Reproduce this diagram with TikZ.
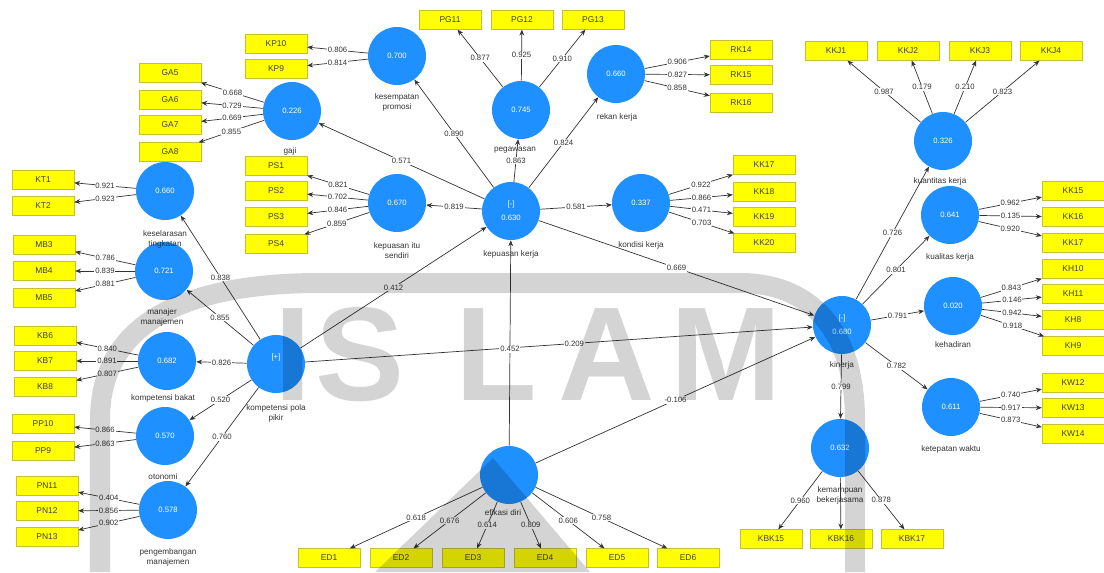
\documentclass[tikz,border=0pt]{standalone}
\usepackage{fontspec}
\setmainfont{Liberation Sans}
\usetikzlibrary{arrows.meta}
\definecolor{lvblue}{HTML}{1E90FF}
\definecolor{indyel}{HTML}{FFFF00}

\begin{document}
\begin{tikzpicture}[x=0.025cm,y=-0.025cm,>={Stealth[length=4.2pt,width=3.4pt]},
  lv/.style={circle,fill=lvblue,minimum size=1.45cm,inner sep=0pt,text=white,font=\fontsize{5.5}{7}\selectfont,align=center},
  ind/.style={rectangle,fill=indyel,draw=yellow!75!black,line width=0.3pt,minimum width=1.55cm,minimum height=0.47cm,inner sep=0pt,text=black!75,font=\fontsize{6}{7}\selectfont},
  lvcap/.style={font=\fontsize{5.8}{7}\selectfont,text=black!80,align=center,inner sep=0pt},
  ld/.style={fill=white,inner sep=0.6pt,font=\fontsize{5.5}{6}\selectfont,text=black!80},
  pth/.style={->,line width=0.5pt,draw=black!80},
  wm/.style={black!17},
  wmtxt/.style={text=black!17,font=\fontsize{95}{95}\selectfont\bfseries,anchor=base,inner sep=0pt}]
  \useasboundingbox (0,0) rectangle (1104,572);

  \node[lv] (kp) at (397,56) {0.700};
  \node[lv] (ga) at (292,111) {0.226};
  \node[lv] (pg) at (521,110) {0.745};
  \node[lv] (rk) at (616,74) {0.660};
  \node[lv] (ks) at (165,191) {0.660};
  \node[lv] (mm) at (164,271) {0.721};
  \node[lv] (kb) at (167,361) {0.682};
  \node[lv] (ot) at (165,436) {0.570};
  \node[lv] (pm) at (168,510) {0.578};
  \node[lv] (pp) at (276,364) {[+]\\[3pt]\phantom{0.000}};
  \node[lv] (pi) at (397,203) {0.670};
  \node[lv] (pk) at (511,211) {[-]\\[3pt]0.630};
  \node[lv] (kk) at (641,203) {0.337};
  \node[lv] (ed) at (509,475) {};
  \node[lv] (ki) at (842,325) {[-]\\[3pt]0.680};
  \node[lv] (kj) at (943,141) {0.326};
  \node[lv] (kl) at (950,215) {0.641};
  \node[lv] (kh) at (953,306) {0.020};
  \node[lv] (kw) at (951,407) {0.611};
  \node[lv] (kbs) at (840,448) {0.632};

  \node[ind] (kp10) at (276,44) {KP10};
  \node[ind] (kp9) at (276,69) {KP9};
  \node[ind] (ga5) at (170,73) {GA5};
  \node[ind] (ga6) at (170,100) {GA6};
  \node[ind] (ga7) at (170,125) {GA7};
  \node[ind] (ga8) at (170,152) {GA8};
  \node[ind] (kt1) at (43,180) {KT1};
  \node[ind] (kt2) at (43,206) {KT2};
  \node[ind] (mb3) at (44,245) {MB3};
  \node[ind] (mb4) at (44,271) {MB4};
  \node[ind] (mb5) at (44,298) {MB5};
  \node[ind] (kb6) at (45,336) {KB6};
  \node[ind] (kb7) at (45,361) {KB7};
  \node[ind] (kb8) at (45,387) {KB8};
  \node[ind] (pp10) at (43,424) {PP10};
  \node[ind] (pp9) at (43,451) {PP9};
  \node[ind] (pn11) at (47,486) {PN11};
  \node[ind] (pn12) at (47,511) {PN12};
  \node[ind] (pn13) at (47,537) {PN13};
  \node[ind] (ps1) at (276,166) {PS1};
  \node[ind] (ps2) at (276,191) {PS2};
  \node[ind] (ps3) at (276,217) {PS3};
  \node[ind] (ps4) at (276,244) {PS4};
  \node[ind] (pg11) at (450,20) {PG11};
  \node[ind] (pg12) at (522,20) {PG12};
  \node[ind] (pg13) at (593,20) {PG13};
  \node[ind] (rk14) at (741,50) {RK14};
  \node[ind] (rk15) at (741,75) {RK15};
  \node[ind] (rk16) at (741,103) {RK16};
  \node[ind] (kk17) at (764,165) {KK17};
  \node[ind] (kk18) at (764,192) {KK18};
  \node[ind] (kk19) at (764,217) {KK19};
  \node[ind] (kk20) at (764,243) {KK20};
  \node[ind] (kkj1) at (836,51) {KKJ1};
  \node[ind] (kkj2) at (908,51) {KKJ2};
  \node[ind] (kkj3) at (980,51) {KKJ3};
  \node[ind] (kkj4) at (1051,51) {KKJ4};
  \node[ind] (kl15) at (1073,191) {KK15};
  \node[ind] (kl16) at (1073,217) {KK16};
  \node[ind] (kl17) at (1073,243) {KK17};
  \node[ind] (kh10) at (1073,269) {KH10};
  \node[ind] (kh11) at (1073,294) {KH11};
  \node[ind] (kh8) at (1073,320) {KH8};
  \node[ind] (kh9) at (1073,346) {KH9};
  \node[ind] (kw12) at (1073,383) {KW12};
  \node[ind] (kw13) at (1073,408) {KW13};
  \node[ind] (kw14) at (1073,434) {KW14};
  \node[ind] (kbk15) at (771,539) {KBK15};
  \node[ind] (kbk16) at (841,539) {KBK16};
  \node[ind] (kbk17) at (912,539) {KBK17};
  \node[ind] (ed1) at (329,558) {ED1};
  \node[ind] (ed2) at (401,558) {ED2};
  \node[ind] (ed3) at (473,558) {ED3};
  \node[ind] (ed4) at (545,558) {ED4};
  \node[ind] (ed5) at (617,558) {ED5};
  \node[ind] (ed6) at (688,558) {ED6};

  \draw[pth] (kp) -- node[ld]{0.806} (kp10);
  \draw[pth] (kp) -- node[ld]{0.814} (kp9);
  \draw[pth] (ga) -- node[ld]{0.668} (ga5);
  \draw[pth] (ga) -- node[ld]{0.729} (ga6);
  \draw[pth] (ga) -- node[ld]{0.669} (ga7);
  \draw[pth] (ga) -- node[ld]{0.855} (ga8);
  \draw[pth] (ks) -- node[ld]{0.921} (kt1);
  \draw[pth] (ks) -- node[ld]{0.923} (kt2);
  \draw[pth] (mm) -- node[ld]{0.786} (mb3);
  \draw[pth] (mm) -- node[ld]{0.839} (mb4);
  \draw[pth] (mm) -- node[ld]{0.881} (mb5);
  \draw[pth] (kb) -- node[ld]{0.840} (kb6);
  \draw[pth] (kb) -- node[ld]{0.891} (kb7);
  \draw[pth] (kb) -- node[ld]{0.807} (kb8);
  \draw[pth] (ot) -- node[ld]{0.866} (pp10);
  \draw[pth] (ot) -- node[ld]{0.863} (pp9);
  \draw[pth] (pm) -- node[ld]{0.404} (pn11);
  \draw[pth] (pm) -- node[ld]{0.856} (pn12);
  \draw[pth] (pm) -- node[ld]{0.902} (pn13);
  \draw[pth] (pi) -- node[ld]{0.821} (ps1);
  \draw[pth] (pi) -- node[ld]{0.702} (ps2);
  \draw[pth] (pi) -- node[ld]{0.846} (ps3);
  \draw[pth] (pi) -- node[ld]{0.859} (ps4);
  \draw[pth] (pg) -- node[ld]{0.877} (pg11);
  \draw[pth] (pg) -- node[ld]{0.925} (pg12);
  \draw[pth] (pg) -- node[ld]{0.910} (pg13);
  \draw[pth] (rk) -- node[ld]{0.906} (rk14);
  \draw[pth] (rk) -- node[ld]{0.827} (rk15);
  \draw[pth] (rk) -- node[ld]{0.858} (rk16);
  \draw[pth] (kk) -- node[ld]{0.922} (kk17);
  \draw[pth] (kk) -- node[ld]{0.866} (kk18);
  \draw[pth] (kk) -- node[ld]{0.471} (kk19);
  \draw[pth] (kk) -- node[ld]{0.703} (kk20);
  \draw[pth] (kj) -- node[ld]{0.987} (kkj1);
  \draw[pth] (kj) -- node[ld]{0.179} (kkj2);
  \draw[pth] (kj) -- node[ld]{0.210} (kkj3);
  \draw[pth] (kj) -- node[ld]{0.823} (kkj4);
  \draw[pth] (kl) -- node[ld]{0.962} (kl15);
  \draw[pth] (kl) -- node[ld]{0.135} (kl16);
  \draw[pth] (kl) -- node[ld]{0.920} (kl17);
  \draw[pth] (kh) -- node[ld]{0.843} (kh10);
  \draw[pth] (kh) -- node[ld]{0.146} (kh11);
  \draw[pth] (kh) -- node[ld]{0.942} (kh8);
  \draw[pth] (kh) -- node[ld]{0.918} (kh9);
  \draw[pth] (kw) -- node[ld]{0.740} (kw12);
  \draw[pth] (kw) -- node[ld]{0.917} (kw13);
  \draw[pth] (kw) -- node[ld]{0.873} (kw14);
  \draw[pth] (kbs) -- node[ld]{0.960} (kbk15);
  \draw[pth] (kbs) -- (kbk16);
  \draw[pth] (kbs) -- node[ld]{0.878} (kbk17);
  \draw[pth] (ed) -- node[ld]{0.618} (ed1);
  \draw[pth] (ed) -- node[ld]{0.676} (ed2);
  \draw[pth] (ed) -- node[ld]{0.614} (ed3);
  \draw[pth] (ed) -- node[ld]{0.809} (ed4);
  \draw[pth] (ed) -- node[ld]{0.606} (ed5);
  \draw[pth] (ed) -- node[ld]{0.758} (ed6);

  \draw[pth] (pk) -- node[ld]{0.890} (kp);
  \draw[pth] (pk) -- node[ld]{0.863} (pg);
  \draw[pth] (pk) -- node[ld]{0.824} (rk);
  \draw[pth] (pk) -- node[ld]{0.571} (ga);
  \draw[pth] (pk) -- node[ld]{0.819} (pi);
  \draw[pth] (pk) -- node[ld]{0.581} (kk);
  \draw[pth] (pk) -- node[ld]{0.669} (ki);
  \draw[pth] (pp) -- node[ld]{0.838} (ks);
  \draw[pth] (pp) -- node[ld]{0.855} (mm);
  \draw[pth] (pp) -- node[ld]{0.826} (kb);
  \draw[pth] (pp) -- node[ld]{0.520} (ot);
  \draw[pth] (pp) -- node[ld]{0.760} (pm);
  \draw[pth] (pp) -- node[ld]{0.412} (pk);
  \draw[pth] (pp) -- node[ld,pos=0.53]{0.209} (ki);
  \draw[pth] (ed) -- node[ld,pos=0.47]{0.452} (pk);
  \draw[pth] (ed) -- node[ld]{-0.106} (ki);
  \draw[pth] (ki) -- node[ld]{0.726} (kj);
  \draw[pth] (ki) -- node[ld]{0.801} (kl);
  \draw[pth] (ki) -- node[ld]{0.791} (kh);
  \draw[pth] (ki) -- node[ld]{0.782} (kw);
  \draw[pth] (ki) -- node[ld]{0.799} (kbs);

  \node[lvcap] (kp-t) at (397,102) {kesempatan\\promosi};
  \node[lvcap] (ga-t) at (290,151) {gaji};
  \node[lvcap] (pg-t) at (515,150) {pegawasan};
  \node[lvcap] (rk-t) at (617,117) {rekan kerja};
  \node[lvcap] (ks-t) at (165,239) {keselarasan\\tingkatan};
  \node[lvcap] (mm-t) at (162,317) {manajer\\manajemen};
  \node[lvcap] (kb-t) at (163,398) {kompetensi bakat};
  \node[lvcap] (ot-t) at (163,477) {otonomi};
  \node[lvcap] (pm-t) at (168,557) {pengembangan\\manajemen};
  \node[lvcap] (pp-t) at (276,413) {kompetensi pola\\pikir};
  \node[lvcap] (pi-t) at (397,251) {kepuasan itu\\sendiri};
  \node[lvcap] (pk-t) at (511,254) {kepuasan kerja};
  \node[lvcap] (kk-t) at (641,245) {kondisi kerja};
  \node[lvcap] (ed-t) at (503,513) {efikasi diri};
  \node[lvcap] (ki-t) at (842,365) {kinerja};
  \node[lvcap] (kj-t) at (940,181) {kuantitas kerja};
  \node[lvcap] (kl-t) at (950,257) {kualitas kerja};
  \node[lvcap] (kh-t) at (953,345) {kehadiran};
  \node[lvcap] (kw-t) at (951,449) {ketepatan waktu};
  \node[lvcap] (kbs-t) at (840,495) {kemampuan\\bekerjasama};

  \begin{scope}[blend mode=multiply]
    \draw[wm,line width=0.5cm] (100,572) -- (100,420) .. controls (100,320) and (190,283) .. (320,283) -- (740,283) .. controls (810,283) and (855,330) .. (855,420) -- (855,572);
    \fill[wm] (493,458) -- (375,572) -- (590,572) -- cycle;
    \node[wmtxt] (wm-i) at (293,400) {I};
    \node[wmtxt] (wm-s) at (360,400) {S};
    \node[wmtxt] (wm-l) at (496,400) {L};
    \node[wmtxt] (wm-a) at (607,400) {A};
    \node[wmtxt] (wm-m) at (726,400) {M};
  \end{scope}
\end{tikzpicture}
\end{document}
